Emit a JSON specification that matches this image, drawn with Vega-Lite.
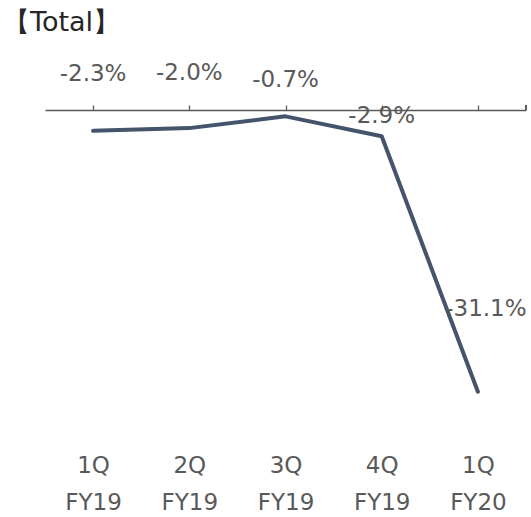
{
  "$schema": "https://vega.github.io/schema/vega-lite/v6.json",
  "width": 481,
  "height": 317,
  "autosize": "none",
  "padding": {"left": 45, "top": 110, "right": 5, "bottom": 90},
  "background": "white",
  "title": {"text": "【Total】", "anchor": "start", "frame": "group", "dx": -42, "offset": 25, "font": "DejaVu Sans", "fontSize": 27, "fontWeight": "normal", "color": "#262626"},
  "config": {"view": {"stroke": null}, "font": "DejaVu Sans"},
  "data": {"values": [
    {"quarter": "1Q FY19", "growth": -2.3, "label": "-2.3%"},
    {"quarter": "2Q FY19", "growth": -2.0, "label": "-2.0%"},
    {"quarter": "3Q FY19", "growth": -0.7, "label": "-0.7%"},
    {"quarter": "4Q FY19", "growth": -2.9, "label": "-2.9%"},
    {"quarter": "1Q FY20", "growth": -31.1, "label": "-31.1%"}
  ]},
  "resolve": {"axis": {"x": "independent"}},
  "layer": [
    {
      "mark": {"type": "line", "color": "#44546A", "strokeWidth": 4, "strokeJoin": "round", "strokeCap": "round"},
      "encoding": {
        "x": {"field": "quarter", "type": "ordinal", "sort": ["1Q FY19", "2Q FY19", "3Q FY19", "4Q FY19", "1Q FY20"],
              "scale": {"type": "point", "padding": 0.5},
              "axis": {"orient": "bottom", "domain": false, "ticks": false, "grid": false, "title": null, "labelAngle": 0,
                       "labelExpr": "split(datum.label, ' ')", "labelFont": "DejaVu Sans", "labelFontSize": 23,
                       "labelColor": "#595959", "labelPadding": 27, "labelLineHeight": 37, "labelBaseline": "top"}},
        "y": {"field": "growth", "type": "quantitative", "scale": {"domain": [-35, 0], "nice": false, "zero": false}, "axis": null}
      }
    },
    {
      "transform": [{"filter": "datum.label == '-2.3%'"}],
      "mark": {"type": "text", "fontSize": 23, "color": "#595959", "align": "center", "baseline": "middle", "dy": -57},
      "encoding": {
        "x": {"field": "quarter", "type": "ordinal", "sort": ["1Q FY19", "2Q FY19", "3Q FY19", "4Q FY19", "1Q FY20"],
              "axis": {"orient": "top", "labels": false, "domain": true, "ticks": true, "tickSize": 5, "grid": false, "title": null,
                       "domainColor": "#595959", "tickColor": "#595959", "domainWidth": 1.3, "tickWidth": 1.3}},
        "y": {"field": "growth", "type": "quantitative"},
        "text": {"field": "label"}
      }
    },
    {
      "transform": [{"filter": "datum.label == '-2.0%'"}],
      "mark": {"type": "text", "fontSize": 23, "color": "#595959", "align": "center", "baseline": "middle", "dy": -55},
      "encoding": {
        "x": {"field": "quarter", "type": "ordinal", "sort": ["1Q FY19", "2Q FY19", "3Q FY19", "4Q FY19", "1Q FY20"], "axis": null},
        "y": {"field": "growth", "type": "quantitative"},
        "text": {"field": "label"}
      }
    },
    {
      "transform": [{"filter": "datum.label == '-0.7%'"}],
      "mark": {"type": "text", "fontSize": 23, "color": "#595959", "align": "center", "baseline": "middle", "dy": -36},
      "encoding": {
        "x": {"field": "quarter", "type": "ordinal", "sort": ["1Q FY19", "2Q FY19", "3Q FY19", "4Q FY19", "1Q FY20"], "axis": null},
        "y": {"field": "growth", "type": "quantitative"},
        "text": {"field": "label"}
      }
    },
    {
      "transform": [{"filter": "datum.label == '-2.9%'"}],
      "mark": {"type": "text", "fontSize": 23, "color": "#595959", "align": "center", "baseline": "middle", "dy": -20},
      "encoding": {
        "x": {"field": "quarter", "type": "ordinal", "sort": ["1Q FY19", "2Q FY19", "3Q FY19", "4Q FY19", "1Q FY20"], "axis": null},
        "y": {"field": "growth", "type": "quantitative"},
        "text": {"field": "label"}
      }
    },
    {
      "transform": [{"filter": "datum.label == '-31.1%'"}],
      "mark": {"type": "text", "fontSize": 23, "color": "#595959", "align": "center", "baseline": "middle", "dy": -83, "dx": 8},
      "encoding": {
        "x": {"field": "quarter", "type": "ordinal", "sort": ["1Q FY19", "2Q FY19", "3Q FY19", "4Q FY19", "1Q FY20"], "axis": null},
        "y": {"field": "growth", "type": "quantitative"},
        "text": {"field": "label"}
      }
    },
    {
      "mark": {"type": "rule", "color": "#595959", "strokeWidth": 1.3},
      "encoding": {
        "x": {"value": {"expr": "width"}},
        "y": {"datum": 0},
        "y2": {"datum": 0.55}
      }
    }
  ]
}
